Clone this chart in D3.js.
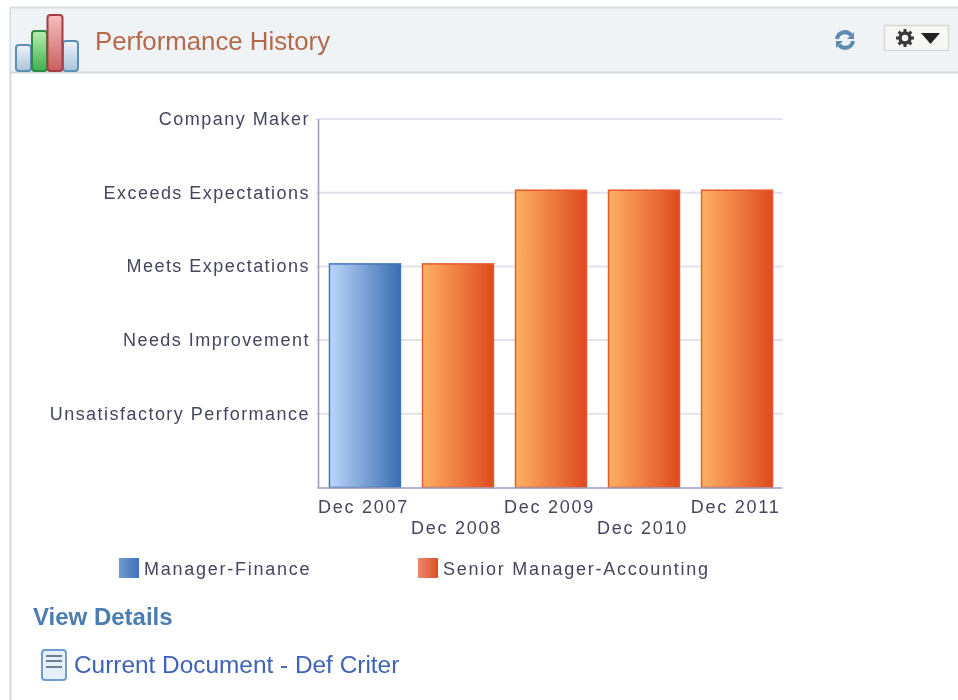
<!DOCTYPE html>
<html>
<head>
<meta charset="utf-8">
<script src="https://cdn.jsdelivr.net/npm/d3@7"></script>
<style>
    html, body { margin: 0; padding: 0; background: #fff; overflow: hidden; }
    svg { display: block; filter: blur(0.55px); }
    text { font-family: "Liberation Sans", Arial, sans-serif; }
    .tick text, .legend text { font-size: 18px; fill: #44465f; }
    .y-axis .tick text { letter-spacing: 1.47px; }
    .x-axis .tick text, .legend text { letter-spacing: 1.75px; }
</style>
</head>
<body>
<div id="canvas"></div>
<script>
// chart data
var periods = ['Dec 2007', 'Dec 2008', 'Dec 2009', 'Dec 2010', 'Dec 2011'];
var ratings = [3, 3, 4, 4, 4];
var jobs = ['Manager-Finance', 'Senior Manager-Accounting', 'Senior Manager-Accounting', 'Senior Manager-Accounting', 'Senior Manager-Accounting'];
var ratingLabels = ['', 'Unsatisfactory Performance', 'Needs Improvement', 'Meets Expectations', 'Exceeds Expectations', 'Company Maker'];
var legendJobs = ['Manager-Finance', 'Senior Manager-Accounting'];

var svg = d3.select('#canvas').append('svg')
    .attr('width', 958)
    .attr('height', 700);

var defs = svg.append('defs');

// gradient helper, left-to-right unless told otherwise
var addGradient = function(id, from, to, vertical) {
    var g = defs.append('linearGradient').attr('id', id);
    if (vertical) {
        g.attr('x2', '0%').attr('y2', '100%');
    }
    g.append('stop').attr('offset', '0%').attr('stop-color', from);
    g.append('stop').attr('offset', '100%').attr('stop-color', to);
};
addGradient('bar-0', '#bcd6fb', '#3a6db2');
addGradient('bar-1', '#ffb064', '#de4a1f');
addGradient('key-0', '#6f9bd2', '#3f72b8');
addGradient('key-1', '#e78a6c', '#df4f27');
addGradient('icon-blue', '#eef3f8', '#a9c3da', true);
addGradient('icon-green', '#b8ecb0', '#3fb04f', true);
addGradient('icon-red', '#f6c0c0', '#c95f5f', true);

// Panel frame and header.
svg.append('rect').attr('x', 10.5).attr('y', 8).attr('width', 960).attr('height', 720)
    .attr('fill', '#fff').attr('stroke', '#d6dbe0').attr('stroke-width', 2);
svg.append('rect').attr('x', 11).attr('y', 8).attr('width', 947).attr('height', 64)
    .attr('fill', '#f0f3f5');
svg.append('line').attr('x1', 10).attr('x2', 958).attr('y1', 72.5).attr('y2', 72.5)
    .attr('stroke', '#d3d8dd').attr('stroke-width', 2);
svg.append('line').attr('x1', 10).attr('x2', 958).attr('y1', 7.5).attr('y2', 7.5)
    .attr('stroke', '#d8dde1').attr('stroke-width', 2);

// Header icon: the four small bars.
var icon = svg.append('g').attr('class', 'header-icon');
[
    [16, 45, 15, 26, '#icon-blue', '#5c8fb3'],
    [63, 41, 15, 30, '#icon-blue', '#5c8fb3'],
    [32, 31, 15, 40, '#icon-green', '#2e8b45'],
    [47.5, 15, 15, 56, '#icon-red', '#a33c44']
].forEach(function(b) {
    icon.append('rect').attr('x', b[0]).attr('y', b[1]).attr('width', b[2]).attr('height', b[3])
        .attr('rx', 3).attr('fill', 'url(' + b[4] + ')').attr('stroke', b[5]).attr('stroke-width', 2);
});

svg.append('text').attr('x', 95).attr('y', 50)
    .attr('font-size', 25.8).attr('fill', '#b4694a').text('Performance History');

// Refresh icon.
var refresh = svg.append('g').attr('transform', 'translate(845,40)')
    .attr('fill', 'none').attr('stroke', '#5f8ab3').attr('stroke-width', 4);
refresh.append('path').attr('d', 'M-8,-1 A8,8 0 0 1 6,-5');
refresh.append('path').attr('d', 'M8,1 A8,8 0 0 1 -6,5');
refresh.append('path').attr('d', 'M9,-8 L9,-1 L2,-1 Z').attr('fill', '#5f8ab3').attr('stroke', 'none');
refresh.append('path').attr('d', 'M-9,8 L-9,1 L-2,1 Z').attr('fill', '#5f8ab3').attr('stroke', 'none');

// Actions button with gear and caret.
svg.append('rect').attr('x', 884.5).attr('y', 25.5).attr('width', 64).attr('height', 25)
    .attr('fill', '#f7f7f5').attr('stroke', '#d8d8d6').attr('stroke-width', 1.5);
var gear = svg.append('g').attr('transform', 'translate(905,38)');
gear.selectAll('rect').data(d3.range(8)).enter().append('rect')
    .attr('x', -1.5).attr('y', -9).attr('width', 3).attr('height', 4)
    .attr('fill', '#3a3a3a').attr('transform', function(d) { return 'rotate(' + d * 45 + ')'; });
gear.append('circle').attr('r', 5).attr('fill', 'none').attr('stroke', '#3a3a3a').attr('stroke-width', 3.5);
svg.append('path').attr('d', 'M921,33 L940,33 L930.5,44 Z').attr('fill', '#222');

// Chart area.
var plot = { left: 318, right: 783, top: 119, bottom: 487.5 };
var barLift = 2.5; // bars stand a little above their grid line in the original

var x = d3.scaleBand().domain(periods).range([plot.left, plot.right])
    .paddingInner(0.237).paddingOuter(0.118);
var y = d3.scaleLinear().domain([0, 5]).range([plot.bottom, plot.top]);
var rows = periods.map(function(p, i) { return { period: p, rating: ratings[i], job: jobs[i] }; });

// Horizontal grid lines.
svg.append('g').selectAll('line').data(d3.range(1, 6)).enter().append('line')
    .attr('x1', plot.left).attr('x2', plot.right)
    .attr('y1', function(d) { return y(d); })
    .attr('y2', function(d) { return y(d); })
    .attr('stroke', '#e1e2ee').attr('stroke-width', 2);

// Bars.
svg.append('g').selectAll('rect').data(rows).enter().append('rect')
    .attr('x', function(d) { return x(d.period) + 0.5; })
    .attr('y', function(d) { return y(d.rating) - barLift; })
    .attr('width', x.bandwidth())
    .attr('height', function(d) { return plot.bottom - y(d.rating) + barLift; })
    .attr('fill', function(d) { return 'url(#bar-' + legendJobs.indexOf(d.job) + ')'; })
    .attr('stroke', function(d) { return legendJobs.indexOf(d.job) ? '#e8582b' : '#3f74bf'; })
    .attr('stroke-width', 1.5);

// Y axis.
var yAxis = svg.append('g')
    .attr('class', 'y-axis')
    .attr('transform', 'translate(' + plot.left + ',0)')
    .call(d3.axisLeft(y).tickValues(d3.range(1, 6))
        .tickFormat(function(d) { return ratingLabels[d]; })
        .tickSizeInner(2).tickSizeOuter(0).tickPadding(6));
yAxis.select('.domain').attr('stroke', '#9c9ec2').attr('stroke-width', 1.6);
yAxis.selectAll('.tick line').attr('stroke', '#c8c9de');
yAxis.selectAll('.tick text').attr('dy', '0.3em');

// X axis, labels stagger on two rows.
var xAxis = svg.append('g')
    .attr('class', 'x-axis')
    .attr('transform', 'translate(-1,' + plot.bottom + ')')
    .call(d3.axisBottom(x).tickSize(0).tickPadding(10));
xAxis.select('.domain').attr('stroke', '#9c9ec2').attr('stroke-width', 1.6);
xAxis.selectAll('.tick text')
    .attr('dy', 0)
    .attr('y', function(d, i) { return i % 2 ? 46 : 25; });

// Legend.
var legendX = d3.scaleOrdinal().domain(legendJobs).range([119, 418]);
var legend = svg.append('g').attr('class', 'legend').selectAll('g').data(legendJobs).enter().append('g')
    .attr('transform', function(d) { return 'translate(' + legendX(d) + ',558)'; });
legend.append('rect').attr('width', 20).attr('height', 20)
    .attr('fill', function(d, i) { return 'url(#key-' + i + ')'; });
legend.append('text').attr('x', 25).attr('y', 17).text(function(d) { return d; });

// Links under the chart.
svg.append('text').attr('x', 33).attr('y', 625)
    .attr('font-size', 24).attr('font-weight', 'bold').attr('fill', '#4a7db1').text('View Details');
svg.append('text').attr('x', 74).attr('y', 673)
    .attr('font-size', 24.4).attr('fill', '#3d62b8').text('Current Document - Def Criter');

// Document icon.
svg.append('rect').attr('x', 42).attr('y', 650).attr('width', 24).attr('height', 30).attr('rx', 3)
    .attr('fill', '#e6f0fb').attr('stroke', '#6f9fd0').attr('stroke-width', 2);
svg.append('g').selectAll('line').data([656, 661, 667]).enter().append('line')
    .attr('x1', 46).attr('x2', 62)
    .attr('y1', function(d) { return d; }).attr('y2', function(d) { return d; })
    .attr('stroke', '#6b7f99').attr('stroke-width', 2);
</script>
</body>
</html>
